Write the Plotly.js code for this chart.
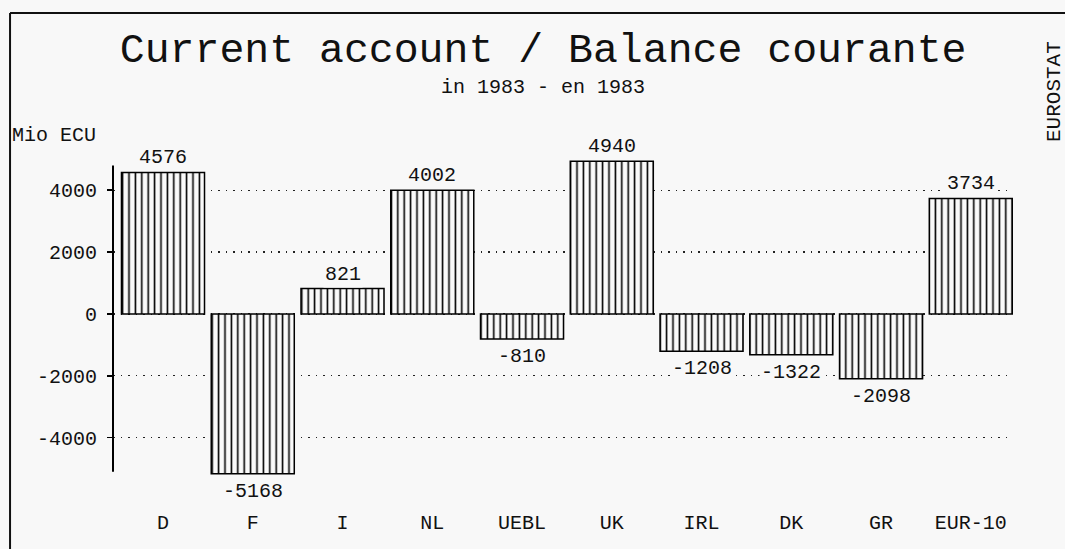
<!DOCTYPE html>
<html>
<head>
<meta charset="utf-8">
<script src="https://cdn.plot.ly/plotly-3.0.1.min.js"></script>
<style>html,body{margin:0;padding:0;background:#f8f8f8;}#chart{width:1065px;height:549px;}</style>
</head>
<body>
<div id="chart"></div>
<script>
const categories = ['D','F','I','NL','UEBL','UK','IRL','DK','GR','EUR-10'];
const values = [4576,-5168,821,4002,-810,4940,-1208,-1322,-2098,3734];
const yTickVals = [-4000,-2000,0,2000,4000];
const yTickText = ['-4000','-2000','0','2000','4000'];

const FONT = 'Liberation Mono, DejaVu Sans Mono, monospace';

const trace = {
  type: 'bar',
  x: categories,
  y: values,
  marker: {
    color: '#fafafa',
    line: {color: '#000', width: 1.5},
    pattern: {shape: '|', size: 6.4, solidity: 0.25, fgcolor: '#000', bgcolor: '#fafafa'}
  },
  hoverinfo: 'x+y'
};

const valueLabels = categories.map((c, i) => ({
  x: c, y: values[i], xref: 'x', yref: 'y',
  text: String(values[i]),
  showarrow: false,
  yanchor: values[i] >= 0 ? 'bottom' : 'top',
  yshift: values[i] >= 0 ? 1 : -4,
  bgcolor: '#f8f8f8',
  borderpad: 1,
  font: {family: FONT, size: 20, color: '#111'}
}));

const layout = {
  width: 1065, height: 549,
  paper_bgcolor: '#f8f8f8',
  plot_bgcolor: '#f8f8f8',
  margin: {l: 113, r: 52, t: 150, b: 65},
  showlegend: false,
  bargap: 0.075,
  title: {
    text: 'Current account / Balance courante',
    x: 0.51, xanchor: 'center',
    y: 1 - 47/549, yanchor: 'middle',
    font: {family: FONT, size: 41.5, color: '#111'}
  },
  xaxis: {
    type: 'category',
    range: [-0.557, 9.47],
    showgrid: false, zeroline: false, showline: false,
    ticks: '', ticklabelstandoff: 24,
    tickfont: {family: FONT, size: 20, color: '#111'},
    fixedrange: true
  },
  yaxis: {
    range: [-5500, 5300],
    tickvals: yTickVals, ticktext: yTickText,
    ticks: 'outside', ticklen: 5, tickcolor: '#000', tickwidth: 1.5,
    ticklabelstandoff: 6,
    tickfont: {family: FONT, size: 20, color: '#111'},
    showgrid: true, gridcolor: '#222', gridwidth: 1.3, griddash: '1.5px,6px',
    zeroline: false, showline: false,
    fixedrange: true
  },
  shapes: [
    {type: 'line', xref: 'paper', yref: 'y', x0: 0, x1: 0, y0: -5100, y1: 4800,
     line: {color: '#000', width: 2}},
    {type: 'line', xref: 'paper', yref: 'paper', x0: -0.1144, x1: 1.2, y0: 1.41, y1: 1.41,
     line: {color: '#111', width: 2}},
    {type: 'line', xref: 'paper', yref: 'paper', x0: -0.1144, x1: -0.1144, y0: 1.41, y1: -0.3,
     line: {color: '#111', width: 2}}
  ],
  annotations: valueLabels.concat([
    {text: 'in 1983 - en 1983', xref: 'paper', yref: 'paper',
     x: (543-113)/900, y: (484-87)/334, showarrow: false,
     xanchor: 'center', yanchor: 'middle',
     font: {family: FONT, size: 20, color: '#111'}},
    {text: 'Mio ECU', xref: 'paper', yref: 'paper',
     x: (10-113)/900, y: (484-135)/334, showarrow: false,
     xanchor: 'left', yanchor: 'middle',
     font: {family: FONT, size: 20, color: '#111'}},
    {text: 'EUROSTAT', xref: 'paper', yref: 'paper', textangle: -90,
     x: (1054-113)/900, y: (484-92)/334, showarrow: false,
     xanchor: 'center', yanchor: 'middle',
     font: {family: FONT, size: 21, color: '#111'}}
  ])
};

Plotly.newPlot('chart', [trace], layout, {displayModeBar: false, staticPlot: true});
</script>
</body>
</html>
